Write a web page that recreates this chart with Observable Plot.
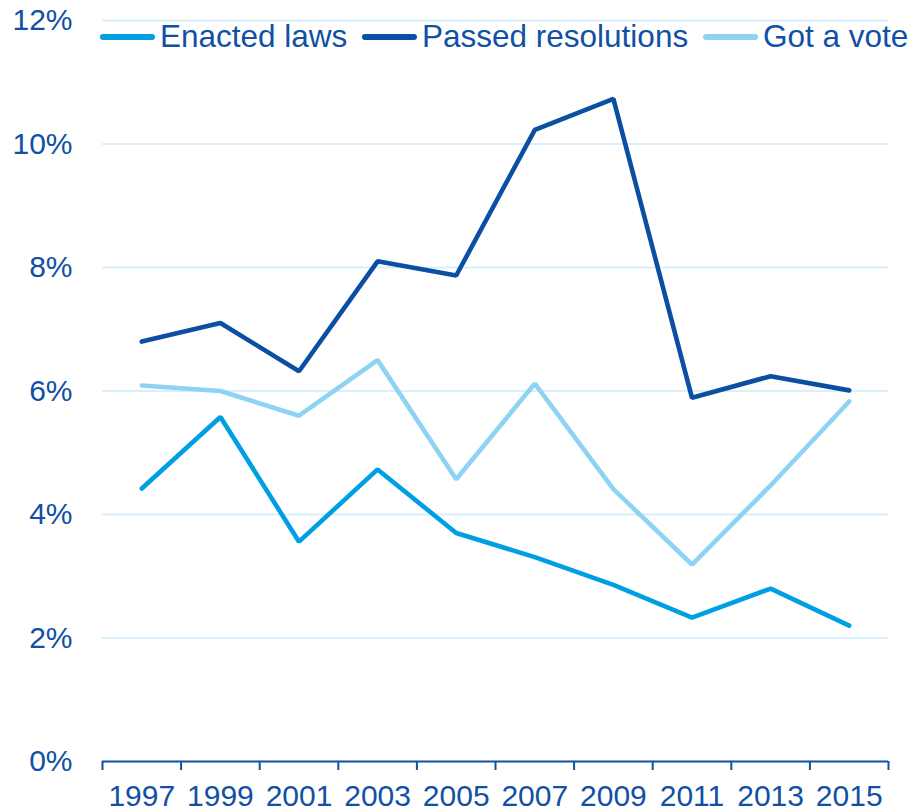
<!DOCTYPE html>
<html>
<head>
<meta charset="utf-8">
<script src="https://cdn.jsdelivr.net/npm/d3@7"></script>
<script src="https://cdn.jsdelivr.net/npm/@observablehq/plot@0.6"></script>
<style>
  html, body { margin: 0; padding: 0; background: #fff; }
  #wrap { position: relative; width: 912px; height: 812px; overflow: hidden; font-family: "Liberation Sans", Arial, sans-serif; }
  #legend { position: absolute; left: 0; top: 0; width: 912px; height: 60px; }
  .item { position: absolute; top: 21px; display: flex; align-items: center; font-size: 31.5px; line-height: 1; color: #1150a5; white-space: nowrap; }
  .sw { display: inline-block; width: 55px; height: 5.5px; border-radius: 3px; margin-right: 5px; }
</style>
</head>
<body>
<div id="wrap"><div id="chart"></div><div id="legend"></div></div>
<script>
// Data
const years = [1997, 1999, 2001, 2003, 2005, 2007, 2009, 2011, 2013, 2015];
const enactedLaws = [4.42, 5.58, 3.56, 4.73, 3.70, 3.31, 2.86, 2.33, 2.80, 2.20];
const passedResolutions = [6.80, 7.10, 6.32, 8.10, 7.87, 10.23, 10.73, 5.89, 6.24, 6.01];
const gotAVote = [6.09, 6.00, 5.60, 6.50, 4.57, 6.12, 4.41, 3.19, 4.47, 5.83];
const seriesNames = ["Enacted laws", "Passed resolutions", "Got a vote"];
const seriesColors = ["#009fe3", "#0b4fa3", "#8ed3f3"];
const yTicks = [0, 2, 4, 6, 8, 10, 12];
const xEdgeTicks = [1996, 1998, 2000, 2002, 2004, 2006, 2008, 2010, 2012, 2014, 2016];

const allSeries = [enactedLaws, passedResolutions, gotAVote];
const rows = [];
allSeries.forEach((vals, i) => vals.forEach((v, j) => rows.push({series: seriesNames[i], year: years[j], value: v})));

const textColor = "#1150a5";
const chart = Plot.plot({
  width: 912,
  height: 812,
  marginLeft: 102,
  marginRight: 24,
  marginTop: 20,
  marginBottom: 51,
  style: {fontFamily: "Liberation Sans, Arial, sans-serif", color: textColor, background: "#fff"},
  x: {type: "linear", domain: [1996, 2016]},
  y: {domain: [0, 12]},
  color: {domain: seriesNames, range: seriesColors},
  marks: [
    Plot.gridY(yTicks.filter(d => d > 0), {stroke: "#cdebf9", strokeOpacity: 1, strokeWidth: 1.5}),
    Plot.axisY(yTicks, {tickSize: 0, tickPadding: 30, fontSize: 30, tickFormat: d => d + "%", label: null, fill: textColor}),
    Plot.axisX(xEdgeTicks, {tickSize: 9, tickFormat: () => "", label: null, stroke: textColor, strokeWidth: 2}),
    Plot.axisX(years, {tickSize: 0, tickPadding: 23, fontSize: 30, tickFormat: d => String(d), label: null, fill: textColor}),
    Plot.ruleY([0], {stroke: textColor, strokeWidth: 2}),
    Plot.line(rows, {x: "year", y: "value", z: "series", stroke: "series", strokeWidth: 4.6, strokeLinecap: "round", strokeLinejoin: "miter"})
  ]
});
document.getElementById("chart").appendChild(chart);

// Legend overlay
const legendLefts = [100, 362, 703];
const legend = document.getElementById("legend");
seriesNames.forEach((name, i) => {
  const item = document.createElement("div");
  item.className = "item";
  item.style.left = legendLefts[i] + "px";
  const sw = document.createElement("span");
  sw.className = "sw";
  sw.style.background = seriesColors[i];
  item.appendChild(sw);
  item.appendChild(document.createTextNode(name));
  legend.appendChild(item);
});
</script>
</body>
</html>
